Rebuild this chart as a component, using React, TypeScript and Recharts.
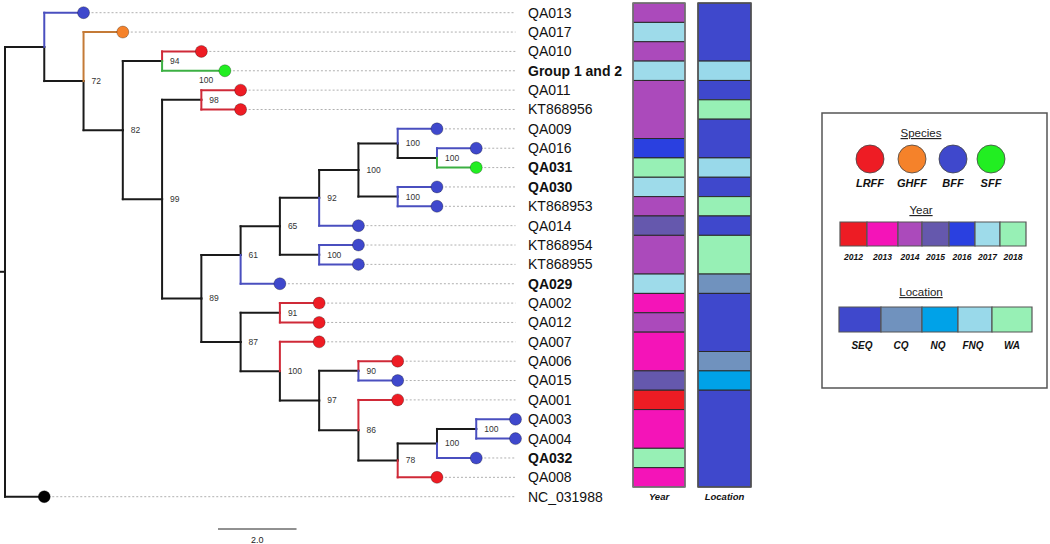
import React from 'react';
import { ScatterChart, Scatter, XAxis, YAxis, ReferenceLine, ReferenceArea } from 'recharts';

// ---------------- DATA ----------------
const leafNames = [
  'QA013', 'QA017', 'QA010', 'Group 1 and 2', 'QA011', 'KT868956', 'QA009', 'QA016', 'QA031',
  'QA030', 'KT868953', 'QA014', 'KT868954', 'KT868955', 'QA029', 'QA002', 'QA012', 'QA007',
  'QA006', 'QA015', 'QA001', 'QA003', 'QA004', 'QA032', 'QA008', 'NC_031988',
];
const boldLeaves = ['Group 1 and 2', 'QA031', 'QA030', 'QA029', 'QA032'];
const leafParents = [
  'A', 'B', 'D', 'D', 'F', 'F', 'L', 'M', 'M', 'N', 'N', 'J', 'O', 'O', 'H', 'Q', 'Q', 'R',
  'T', 'T', 'U', 'X', 'X', 'W', 'V', 'root',
];
const leafSpecies = [
  'BFF', 'GHFF', 'LRFF', 'SFF', 'LRFF', 'LRFF', 'BFF', 'BFF', 'SFF', 'BFF', 'BFF', 'BFF', 'BFF',
  'BFF', 'BFF', 'LRFF', 'LRFF', 'LRFF', 'LRFF', 'BFF', 'LRFF', 'BFF', 'BFF', 'BFF', 'LRFF', 'outgroup',
];
const leafYears = [
  2014, 2017, 2014, 2017, 2014, 2014, 2014, 2016, 2018, 2017, 2014, 2015, 2014, 2014, 2017,
  2013, 2014, 2013, 2013, 2015, 2012, 2013, 2013, 2018, 2013, null,
];
const leafLocations = [
  'SEQ', 'SEQ', 'SEQ', 'FNQ', 'SEQ', 'WA', 'SEQ', 'SEQ', 'FNQ', 'SEQ', 'WA', 'SEQ', 'WA', 'WA',
  'CQ', 'SEQ', 'SEQ', 'SEQ', 'CQ', 'NQ', 'SEQ', 'SEQ', 'SEQ', 'SEQ', 'SEQ', null,
];

const nodeIds = ['root', 'A', 'B', 'C', 'D', 'E', 'F', 'G', 'H', 'I', 'J', 'K', 'L', 'M', 'N', 'O', 'P', 'Q', 'R', 'S', 'T', 'U', 'V', 'W', 'X'];
const nodeParents = [null, 'root', 'A', 'B', 'C', 'C', 'E', 'E', 'G', 'H', 'I', 'J', 'K', 'L', 'K', 'I', 'G', 'P', 'P', 'R', 'S', 'S', 'U', 'V', 'W'];
const nodeSupport = [null, null, 72, 82, 94, 99, 98, 89, 61, 65, 92, 100, 100, 100, 100, 100, 87, 91, 100, 97, 90, 86, 78, 100, 100];

const branchLengthOverrides: Record<string, number> = { 'Group 1 and 2': 1.6 };
const tipSupport: Record<string, number> = { 'Group 1 and 2': 100 };

const speciesNames = ['LRFF', 'GHFF', 'BFF', 'SFF'];
const speciesColors = ['#ee1c24', '#f5822a', '#3f48cc', '#22ee22'];
const speciesBranchColors = ['#cf2a38', '#c47a36', '#4a4fbf', '#3cb043'];

const yearTicks = [2012, 2013, 2014, 2015, 2016, 2017, 2018];
const yearColors = ['#ed1c24', '#f414b8', '#ab4abb', '#6558ad', '#2a40e0', '#9edbea', '#97f0b5'];

const locationNames = ['SEQ', 'CQ', 'NQ', 'FNQ', 'WA'];
const locationColors = ['#3f48cc', '#7092be', '#00a2e8', '#99d9ea', '#97f0b5'];

const scaleBarLength = 2.0;

// ---------------- LAYOUT ----------------
const W = 1050;
const H = 544;
const X0 = 5;
const XU = 39.27;
const Y0 = 12.7;
const YU = 19.36;
const ux = (px: number) => (px - X0) / XU;
const uy = (py: number) => (py - Y0) / YU;
const xDomain = [ux(0), ux(W)];
const yDomain = [uy(0), uy(H)];

const dotEnd = 13;
const labelX = ux(528);
const supportDx = 8 / XU;
const yearCol = [ux(633), ux(685)];
const locCol = [ux(698), ux(751)];
const scaleBarStart = ux(218);
const scaleBarY = uy(529);

const legendBox = { x1: ux(822), x2: ux(1047), y1: uy(113), y2: uy(388) };
const legendCenterX = ux(921);
const speciesXs = [870, 912, 953, 991].map(ux);
const speciesCircleY = uy(159);
const speciesLabelY = uy(183);
const yearBarEdges = [840, 867, 898, 922, 949, 975, 1000, 1026].map(ux);
const yearBarY = [uy(222), uy(246)];
const locBarEdges = [839, 881, 922, 958, 992, 1032].map(ux);
const locBarY = [uy(307), uy(332)];
const locLabelXs = [862, 901, 938, 973, 1012].map(ux);

// ---------------- TREE ----------------
type TNode = { id: string; parent: string | null; children: string[]; leaf: boolean; row?: number; species?: string; support?: number | null; x: number; y: number };
const nodes = new Map<string, TNode>();
nodeIds.forEach((id, i) => nodes.set(id, { id, parent: nodeParents[i], children: [], leaf: false, support: nodeSupport[i], x: 0, y: 0 }));
leafNames.forEach((id, i) => nodes.set(id, { id, parent: leafParents[i], children: [], leaf: true, row: i, species: leafSpecies[i], x: 0, y: i }));
nodes.forEach((n) => { if (n.parent) nodes.get(n.parent)!.children.push(n.id); });
const layoutX = (id: string, x: number) => {
  const n = nodes.get(id)!;
  n.x = x;
  n.children.forEach((c) => layoutX(c, x + (branchLengthOverrides[c] ?? 1)));
};
const layoutY = (id: string): number => {
  const n = nodes.get(id)!;
  if (n.leaf) return n.y;
  const ys = n.children.map(layoutY);
  n.y = (Math.min(...ys) + Math.max(...ys)) / 2;
  return n.y;
};
layoutX('root', 0);
layoutY('root');

const speciesColor = (s?: string) => { const i = speciesNames.indexOf(s || ''); return i >= 0 ? speciesColors[i] : '#000'; };
const branchColor = (s?: string) => { const i = speciesNames.indexOf(s || ''); return i >= 0 ? speciesBranchColors[i] : '#1a1a1a'; };

type Seg = { x1: number; y1: number; x2: number; y2: number; color: string };
const blackSegs: Seg[] = [];
const colorSegs: Seg[] = [];
nodes.forEach((c) => {
  if (!c.parent) return;
  const p = nodes.get(c.parent)!;
  const color = c.leaf ? branchColor(c.species) : '#1a1a1a';
  const arr = c.leaf && c.species !== 'outgroup' ? colorSegs : blackSegs;
  arr.push({ x1: p.x, y1: p.y, x2: p.x, y2: c.y, color });
  arr.push({ x1: p.x, y1: c.y, x2: c.x, y2: c.y, color });
});
const root = nodes.get('root')!;
blackSegs.push({ x1: root.x - 0.13, y1: root.y, x2: root.x, y2: root.y, color: '#1a1a1a' });

const leaves = leafNames.map((n) => nodes.get(n)!);
const dotted = leaves.filter((l) => l.x < dotEnd).map((l) => ({ x1: l.x, x2: dotEnd, y: l.y }));
const tipPoints = leaves.map((l) => ({ x: l.x, y: l.y, color: speciesColor(l.species) }));
const leafLabelPts = leaves.map((l) => ({ x: labelX, y: l.y, text: l.id, bold: boldLeaves.includes(l.id) }));
const supportPts: { x: number; y: number; text: string; anchor: string }[] = [];
nodes.forEach((n) => {
  if (!n.leaf && n.support != null) supportPts.push({ x: n.x + supportDx, y: n.y, text: String(n.support), anchor: 'start' });
  if (n.leaf && tipSupport[n.id] != null) supportPts.push({ x: n.x - 0.48, y: n.y + 0.5, text: String(tipSupport[n.id]), anchor: 'middle' });
});

const runs = (vals: (string | number | null)[]) => {
  const out: { v: string | number; s: number; e: number }[] = [];
  vals.forEach((v, i) => {
    if (v == null) return;
    const last = out[out.length - 1];
    if (last && last.v === v && last.e === i - 1) last.e = i;
    else out.push({ v, s: i, e: i });
  });
  return out;
};
const yearRuns = runs(leafYears).map((r) => ({ ...r, color: yearColors[yearTicks.indexOf(r.v as number)] }));
const locRuns = runs(leafLocations).map((r) => ({ ...r, color: locationColors[locationNames.indexOf(r.v as string)] }));
const heatTop = -0.5;
const heatBottom = leafYears.filter((v) => v != null).length - 0.5;

const colLabels = [
  { x: (yearCol[0] + yearCol[1]) / 2, y: uy(497), text: 'Year' },
  { x: (locCol[0] + locCol[1]) / 2, y: uy(497), text: 'Location' },
];
const legendTitles = [
  { x: legendCenterX, y: uy(133), text: 'Species' },
  { x: legendCenterX, y: uy(210), text: 'Year' },
  { x: legendCenterX, y: uy(292), text: 'Location' },
];
const speciesLegendPts = speciesNames.map((s, i) => ({ x: speciesXs[i], y: speciesCircleY, color: speciesColors[i] }));
const speciesLegendLabels = speciesNames.map((s, i) => ({ x: speciesXs[i], y: speciesLabelY, text: s }));
const yearLegendLabels = yearTicks.map((t, i) => ({ x: (yearBarEdges[i] + yearBarEdges[i + 1]) / 2, y: uy(257), text: String(t) }));
const locLegendLabels = locationNames.map((t, i) => ({ x: locLabelXs[i], y: uy(345), text: t }));
const scaleLabel = [{ x: scaleBarStart + scaleBarLength / 2, y: uy(540), text: scaleBarLength.toFixed(1) }];

const FONT = 'Liberation Sans, Arial, sans-serif';

const textShape = (style: any) => (props: any) => (
  <text x={props.cx} y={props.cy} dy="0.35em" fontFamily={FONT} {...style}>
    {props.payload.text}
  </text>
);

export default function App() {
  return (
    <div style={{ position: 'absolute', left: 0, top: 0, width: W, height: H, background: '#fff' }}>
      <ScatterChart width={W} height={H} margin={{ top: 0, right: 0, bottom: 0, left: 0 }}>
        <XAxis type="number" dataKey="x" domain={xDomain} allowDataOverflow hide />
        <YAxis type="number" dataKey="y" domain={yDomain} allowDataOverflow reversed hide />

        {dotted.map((d, i) => (
          <ReferenceLine key={'d' + i} segment={[{ x: d.x1, y: d.y }, { x: d.x2, y: d.y }]} stroke="#b0b0b0" strokeWidth={1} strokeDasharray="2 2" ifOverflow="visible" />
        ))}
        {blackSegs.map((s, i) => (
          <ReferenceLine key={'b' + i} segment={[{ x: s.x1, y: s.y1 }, { x: s.x2, y: s.y2 }]} stroke={s.color} strokeWidth={2} strokeLinecap="square" ifOverflow="visible" />
        ))}
        {colorSegs.map((s, i) => (
          <ReferenceLine key={'c' + i} segment={[{ x: s.x1, y: s.y1 }, { x: s.x2, y: s.y2 }]} stroke={s.color} strokeWidth={2} strokeLinecap="square" ifOverflow="visible" />
        ))}
        <ReferenceLine segment={[{ x: scaleBarStart, y: scaleBarY }, { x: scaleBarStart + scaleBarLength, y: scaleBarY }]} stroke="#222" strokeWidth={1} ifOverflow="visible" />

        {yearRuns.map((r, i) => (
          <ReferenceArea key={'y' + i} x1={yearCol[0]} x2={yearCol[1]} y1={r.s - 0.5} y2={r.e + 0.5} fill={r.color} fillOpacity={1} stroke="#2a2a2a" strokeWidth={1} ifOverflow="visible" />
        ))}
        {locRuns.map((r, i) => (
          <ReferenceArea key={'l' + i} x1={locCol[0]} x2={locCol[1]} y1={r.s - 0.5} y2={r.e + 0.5} fill={r.color} fillOpacity={1} stroke="#2a2a2a" strokeWidth={1} ifOverflow="visible" />
        ))}
        <ReferenceArea x1={yearCol[0]} x2={yearCol[1]} y1={heatTop} y2={heatBottom} fill="none" stroke="#7a7a7a" strokeWidth={1.5} ifOverflow="visible" />
        <ReferenceArea x1={locCol[0]} x2={locCol[1]} y1={heatTop} y2={heatBottom} fill="none" stroke="#555" strokeWidth={1.5} ifOverflow="visible" />

        <ReferenceArea x1={legendBox.x1} x2={legendBox.x2} y1={legendBox.y1} y2={legendBox.y2} fill="#fff" fillOpacity={1} stroke="#555" strokeWidth={1.5} ifOverflow="visible" />
        {yearColors.map((c, i) => (
          <ReferenceArea key={'yl' + i} x1={yearBarEdges[i]} x2={yearBarEdges[i + 1]} y1={yearBarY[0]} y2={yearBarY[1]} fill={c} fillOpacity={1} stroke="#555" strokeWidth={1.2} ifOverflow="visible" />
        ))}
        {locationColors.map((c, i) => (
          <ReferenceArea key={'ll' + i} x1={locBarEdges[i]} x2={locBarEdges[i + 1]} y1={locBarY[0]} y2={locBarY[1]} fill={c} fillOpacity={1} stroke="#555" strokeWidth={1.2} ifOverflow="visible" />
        ))}

        <Scatter data={tipPoints} isAnimationActive={false}
          shape={(p: any) => <circle cx={p.cx} cy={p.cy} r={6} fill={p.payload.color} stroke="rgba(0,0,0,0.35)" strokeWidth={0.8} />} />
        <Scatter data={speciesLegendPts} isAnimationActive={false}
          shape={(p: any) => <circle cx={p.cx} cy={p.cy} r={14} fill={p.payload.color} stroke="#444" strokeWidth={0.8} />} />

        <Scatter data={leafLabelPts} isAnimationActive={false}
          shape={(p: any) => (
            <text x={p.cx} y={p.cy} dy="0.35em" fontFamily={FONT} fontSize={14} fill="#111" fontWeight={p.payload.bold ? 'bold' : 'normal'}>
              {p.payload.text}
            </text>
          )} />
        <Scatter data={supportPts} isAnimationActive={false}
          shape={(p: any) => (
            <text x={p.cx} y={p.cy} dy="0.35em" fontFamily={FONT} fontSize={8.5} fill="#333" textAnchor={p.payload.anchor}>
              {p.payload.text}
            </text>
          )} />
        <Scatter data={colLabels} isAnimationActive={false} shape={textShape({ fontSize: 9.5, fontWeight: 'bold', fontStyle: 'italic', textAnchor: 'middle', fill: '#111' })} />
        <Scatter data={legendTitles} isAnimationActive={false} shape={textShape({ fontSize: 11.5, textAnchor: 'middle', fill: '#222', textDecoration: 'underline' })} />
        <Scatter data={speciesLegendLabels} isAnimationActive={false} shape={textShape({ fontSize: 11, fontWeight: 'bold', fontStyle: 'italic', textAnchor: 'middle', fill: '#111' })} />
        <Scatter data={yearLegendLabels} isAnimationActive={false} shape={textShape({ fontSize: 8.5, fontWeight: 'bold', fontStyle: 'italic', textAnchor: 'middle', fill: '#111' })} />
        <Scatter data={locLegendLabels} isAnimationActive={false} shape={textShape({ fontSize: 10, fontWeight: 'bold', fontStyle: 'italic', textAnchor: 'middle', fill: '#111' })} />
        <Scatter data={scaleLabel} isAnimationActive={false} shape={textShape({ fontSize: 9, textAnchor: 'middle', fill: '#222' })} />
      </ScatterChart>
    </div>
  );
}
